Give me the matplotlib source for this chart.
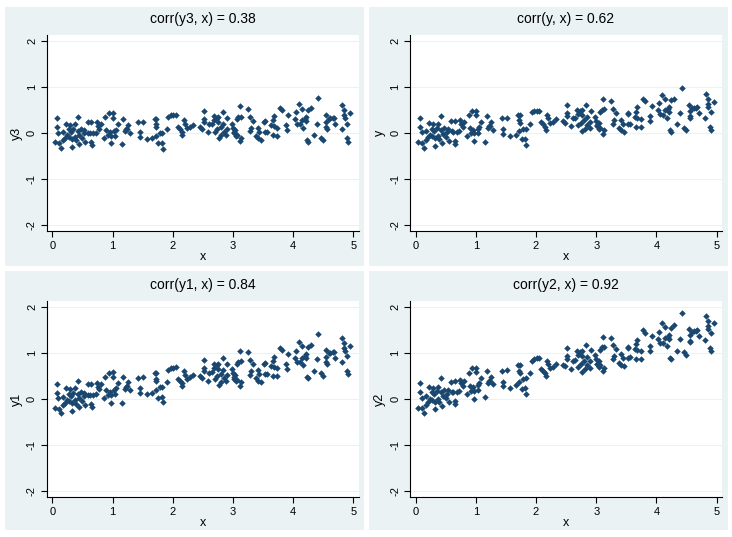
import matplotlib.pyplot as plt
from matplotlib.patches import Rectangle

plt.rcParams['font.family'] = ['Liberation Sans', 'DejaVu Sans']

# shared x values (same draws in every panel)
x = [0.08, 0.045, 0.08, 0.10, 0.11, 0.14, 0.17, 0.18, 0.22, 0.21,
     0.24, 0.27, 0.28, 0.29, 0.31, 0.32, 0.33, 0.35, 0.37, 0.38,
     0.39, 0.42, 0.43, 0.44, 0.45, 0.48, 0.50, 0.52, 0.53, 0.55,
     0.59, 0.60, 0.62, 0.65, 0.65, 0.66, 0.68, 0.72, 0.74, 0.76,
     0.78, 0.81, 0.86, 0.88, 0.90, 0.92, 0.94, 0.96, 0.97, 0.97,
     1.01, 1.01, 1.03, 1.04, 1.06, 1.09, 1.16, 1.18, 1.21, 1.22,
     1.24, 1.25, 1.29, 1.43, 1.45, 1.46, 1.51, 1.57, 1.66, 1.70,
     1.72, 1.73, 1.72, 1.73, 1.76, 1.79, 1.82, 1.83, 1.84, 1.90,
     1.93, 1.97, 2.01, 2.05, 2.09, 2.12, 2.15, 2.16, 2.19, 2.20,
     2.23, 2.29, 2.33, 2.45, 2.48, 2.52, 2.52, 2.52, 2.58, 2.61,
     2.65, 2.68, 2.69, 2.70, 2.73, 2.74, 2.76, 2.76, 2.77, 2.80,
     2.81, 2.83, 2.84, 2.85, 2.89, 2.90, 2.91, 2.98, 3.00, 3.01,
     3.02, 3.04, 3.05, 3.06, 3.07, 3.09, 3.11, 3.12, 3.13, 3.13,
     3.25, 3.28, 3.28, 3.30, 3.33, 3.38, 3.41, 3.42, 3.44, 3.46,
     3.52, 3.53, 3.53, 3.56, 3.64, 3.66, 3.66, 3.68, 3.68, 3.74,
     3.74, 3.78, 3.81, 3.89, 3.90, 3.92, 4.03, 4.05, 4.06, 4.09,
     4.11, 4.14, 4.14, 4.17, 4.20, 4.21, 4.21, 4.23, 4.24, 4.25,
     4.29, 4.34, 4.40, 4.42, 4.46, 4.49, 4.54, 4.55, 4.55, 4.56,
     4.59, 4.62, 4.66, 4.68, 4.70, 4.81, 4.82, 4.85, 4.85, 4.86,
     4.89, 4.90, 4.91, 4.95]

y3 = [0.32, -0.21, 0.13, 0.00, -0.23, -0.33, -0.16, 0.02, 0.20, -0.11,
      -0.05, -0.09, 0.08, 0.17, 0.02, -0.30, -0.14, 0.08, 0.18, -0.09,
      -0.16, 0.04, 0.34, -0.25, -0.05, 0.08, -0.11, -0.01, 0.06, -0.21,
      0.23, 0.00, -0.01, 0.23, -0.21, -0.27, -0.01, -0.01, 0.23, 0.15,
      0.09, 0.20, -0.11, 0.35, 0.06, -0.05, 0.43, 0.02, -0.06, -0.23,
      0.43, 0.33, 0.04, -0.06, 0.07, 0.18, -0.25, 0.30, 0.04, 0.08,
      0.09, 0.17, 0.00, 0.24, 0.02, -0.09, 0.24, -0.14, -0.12, 0.30,
      0.18, 0.30, -0.06, 0.13, -0.23, -0.01, -0.23, 0.00, -0.35, 0.09,
      0.35, 0.38, 0.38, 0.38, 0.13, 0.08, 0.02, -0.04, 0.28, 0.20,
      0.11, 0.13, 0.17, 0.13, 0.09, 0.47, 0.30, 0.23, 0.01, 0.18,
      0.18, 0.37, 0.28, 0.02, 0.33, 0.08, 0.35, 0.24, -0.11, 0.13,
      -0.05, 0.46, 0.20, 0.02, -0.04, 0.09, 0.33, 0.20, 0.11, 0.02,
      -0.01, 0.06, -0.06, 0.30, -0.04, 0.35, -0.18, 0.57, -0.11, 0.35,
      0.52, 0.35, 0.04, 0.11, 0.25, -0.06, -0.11, 0.11, 0.02, -0.16,
      0.23, 0.25, 0.02, 0.02, 0.17, -0.05, 0.28, 0.37, 0.15, 0.11,
      -0.07, 0.54, 0.49, 0.17, 0.06, 0.38, 0.30, 0.44, 0.20, 0.62,
      0.18, 0.52, 0.28, 0.11, 0.30, 0.35, 0.25, -0.16, -0.19, 0.49,
      0.53, -0.04, 0.20, 0.76, -0.11, -0.16, 0.38, 0.24, 0.13, 0.09,
      0.30, 0.31, 0.31, 0.33, 0.18, 0.08, 0.60, 0.49, 0.38, 0.31,
      -0.12, 0.20, -0.19, 0.42]

y = [0.32, -0.21, 0.13, 0.01, -0.22, -0.32, -0.15, 0.03, 0.21, -0.10,
     -0.04, -0.08, 0.09, 0.18, 0.04, -0.28, -0.12, 0.10, 0.20, -0.07,
     -0.14, 0.06, 0.36, -0.23, -0.03, 0.10, -0.09, 0.02, 0.09, -0.18,
     0.26, 0.03, 0.02, 0.26, -0.18, -0.24, 0.02, 0.03, 0.27, 0.19,
     0.13, 0.24, -0.07, 0.39, 0.11, 0.00, 0.48, 0.07, -0.01, -0.18,
     0.48, 0.38, 0.09, -0.01, 0.12, 0.23, -0.19, 0.36, 0.10, 0.14,
     0.15, 0.23, 0.06, 0.31, 0.09, -0.02, 0.32, -0.06, -0.04, 0.39,
     0.27, 0.39, 0.03, 0.22, -0.14, 0.08, -0.14, 0.09, -0.26, 0.19,
     0.45, 0.48, 0.48, 0.48, 0.23, 0.19, 0.13, 0.07, 0.39, 0.31,
     0.22, 0.24, 0.29, 0.25, 0.21, 0.60, 0.43, 0.36, 0.14, 0.31,
     0.31, 0.50, 0.41, 0.16, 0.47, 0.22, 0.49, 0.38, 0.03, 0.27,
     0.09, 0.60, 0.34, 0.16, 0.10, 0.24, 0.48, 0.35, 0.26, 0.17,
     0.14, 0.21, 0.09, 0.45, 0.11, 0.50, -0.02, 0.73, 0.05, 0.51,
     0.68, 0.51, 0.20, 0.28, 0.42, 0.11, 0.06, 0.28, 0.19, 0.01,
     0.41, 0.43, 0.20, 0.20, 0.35, 0.13, 0.46, 0.55, 0.33, 0.30,
     0.12, 0.73, 0.68, 0.36, 0.26, 0.58, 0.50, 0.64, 0.40, 0.82,
     0.39, 0.73, 0.49, 0.32, 0.51, 0.56, 0.46, 0.05, 0.02, 0.70,
     0.74, 0.18, 0.42, 0.98, 0.11, 0.06, 0.61, 0.47, 0.36, 0.32,
     0.53, 0.54, 0.54, 0.56, 0.42, 0.32, 0.84, 0.73, 0.62, 0.55,
     0.12, 0.45, 0.06, 0.67]

y1 = [0.33, -0.20, 0.14, 0.02, -0.21, -0.31, -0.13, 0.05, 0.23, -0.08,
      -0.01, -0.05, 0.12, 0.21, 0.07, -0.25, -0.09, 0.13, 0.24, -0.03,
      -0.10, 0.10, 0.40, -0.18, 0.02, 0.15, -0.04, 0.07, 0.14, -0.13,
      0.32, 0.09, 0.08, 0.33, -0.11, -0.17, 0.09, 0.10, 0.34, 0.26,
      0.21, 0.32, 0.02, 0.48, 0.20, 0.09, 0.57, 0.16, 0.09, -0.08,
      0.58, 0.48, 0.19, 0.10, 0.23, 0.34, -0.08, 0.48, 0.22, 0.26,
      0.28, 0.36, 0.19, 0.45, 0.24, 0.13, 0.47, 0.10, 0.13, 0.56,
      0.44, 0.56, 0.20, 0.39, 0.03, 0.26, 0.04, 0.27, -0.07, 0.38,
      0.64, 0.68, 0.68, 0.69, 0.44, 0.40, 0.34, 0.28, 0.61, 0.53,
      0.44, 0.47, 0.52, 0.50, 0.46, 0.85, 0.68, 0.61, 0.40, 0.57,
      0.58, 0.77, 0.68, 0.43, 0.74, 0.49, 0.76, 0.65, 0.31, 0.55,
      0.37, 0.88, 0.63, 0.45, 0.39, 0.53, 0.77, 0.65, 0.56, 0.47,
      0.44, 0.52, 0.40, 0.76, 0.42, 0.81, 0.29, 1.04, 0.36, 0.82,
      1.01, 0.84, 0.53, 0.61, 0.75, 0.45, 0.40, 0.62, 0.54, 0.36,
      0.76, 0.78, 0.55, 0.55, 0.72, 0.50, 0.83, 0.92, 0.70, 0.67,
      0.49, 1.11, 1.06, 0.75, 0.65, 0.97, 0.90, 1.05, 0.81, 1.23,
      0.80, 1.14, 0.90, 0.74, 0.93, 0.98, 0.88, 0.47, 0.45, 1.13,
      1.17, 0.61, 0.86, 1.42, 0.56, 0.51, 1.06, 0.92, 0.81, 0.77,
      0.99, 1.00, 1.01, 1.03, 0.89, 0.80, 1.32, 1.22, 1.11, 1.04,
      0.61, 0.94, 0.55, 1.16]

y2 = [0.34, -0.20, 0.15, 0.03, -0.20, -0.30, -0.12, 0.07, 0.26, -0.06,
      0.01, -0.02, 0.15, 0.24, 0.10, -0.22, -0.06, 0.17, 0.27, 0.01,
      -0.06, 0.15, 0.45, -0.14, 0.06, 0.20, 0.02, 0.12, 0.19, -0.07,
      0.38, 0.15, 0.15, 0.39, -0.05, -0.11, 0.16, 0.17, 0.42, 0.34,
      0.29, 0.40, 0.11, 0.57, 0.29, 0.18, 0.67, 0.26, 0.18, 0.01,
      0.68, 0.58, 0.30, 0.20, 0.34, 0.45, 0.04, 0.60, 0.34, 0.39,
      0.40, 0.48, 0.32, 0.60, 0.38, 0.28, 0.62, 0.25, 0.30, 0.73,
      0.61, 0.73, 0.37, 0.56, 0.21, 0.44, 0.23, 0.46, 0.11, 0.57,
      0.83, 0.87, 0.88, 0.89, 0.65, 0.61, 0.56, 0.50, 0.83, 0.75,
      0.67, 0.70, 0.75, 0.74, 0.71, 1.10, 0.93, 0.86, 0.66, 0.83,
      0.84, 1.04, 0.95, 0.70, 1.01, 0.77, 1.04, 0.93, 0.58, 0.83,
      0.65, 1.17, 0.91, 0.73, 0.68, 0.82, 1.06, 0.95, 0.86, 0.77,
      0.75, 0.82, 0.70, 1.07, 0.73, 1.12, 0.60, 1.35, 0.67, 1.13,
      1.33, 1.17, 0.86, 0.94, 1.08, 0.79, 0.74, 0.97, 0.88, 0.71,
      1.11, 1.13, 0.90, 0.91, 1.08, 0.87, 1.20, 1.29, 1.07, 1.05,
      0.87, 1.49, 1.44, 1.14, 1.04, 1.36, 1.31, 1.45, 1.22, 1.64,
      1.21, 1.56, 1.32, 1.15, 1.35, 1.40, 1.30, 0.90, 0.87, 1.55,
      1.60, 1.05, 1.30, 1.87, 1.01, 0.96, 1.52, 1.38, 1.27, 1.23,
      1.45, 1.47, 1.48, 1.50, 1.36, 1.28, 1.81, 1.70, 1.59, 1.53,
      1.10, 1.43, 1.04, 1.66]

panels = [("y3", y3, "corr(y3, x) = 0.38"),
          ("y", y, "corr(y, x) = 0.62"),
          ("y1", y1, "corr(y1, x) = 0.84"),
          ("y2", y2, "corr(y2, x) = 0.92")]

W, H = 732, 537
bg = "#eaf2f3"
dot = "#1a476f"

fig = plt.figure(figsize=(W / 100, H / 100), dpi=100)
fig.patch.set_facecolor("white")

# panel boxes (pixel coords from top-left)
boxes = [(5, 7), (369, 7), (5, 271), (369, 271)]
for bx, by in boxes:
    fig.patches.append(Rectangle((bx / W, 1 - (by + 259) / H), 359 / W, 259 / H,
                                 transform=fig.transFigure, facecolor=bg,
                                 edgecolor="none", zorder=-5))

offsets = [(0, 0), (363.3, 0), (0, 266.3), (363.3, 266.3)]
for (name, vals, title), (dx, dy) in zip(panels, offsets):
    left = 46.7 + dx
    top = 35 + dy
    ax = fig.add_axes([left / W, 1 - (top + 196) / H, 311.8 / W, 196 / H])
    ax.set_zorder(2)
    ax.set_facecolor("white")
    ax.scatter(x, vals, s=11, marker="D", color=dot, linewidths=0, zorder=3)
    ax.set_xlim(-0.093, 5.086)
    ax.set_ylim(-2.13, 2.12)
    ax.set_xticks([0, 1, 2, 3, 4, 5])
    ax.set_yticks([-2, -1, 0, 1, 2])
    ax.set_yticklabels(["-2", "-1", "0", "1", "2"], rotation=90, va="center")
    ax.tick_params(direction="out", length=4, width=0.8, labelsize=8,
                   color="black", pad=3)
    ax.grid(axis="y", color=bg, linewidth=0.8, zorder=0)
    for s in ["top", "right"]:
        ax.spines[s].set_visible(False)
    for s in ["left", "bottom"]:
        ax.spines[s].set_color("black")
        ax.spines[s].set_linewidth(0.8)
    ax.set_xlabel("x", fontsize=9, labelpad=0)
    ax.set_ylabel(name, fontsize=9, labelpad=3)
    ax.set_title(title, fontsize=10, pad=9)

fig.savefig("out.png", dpi=100, facecolor="white")
